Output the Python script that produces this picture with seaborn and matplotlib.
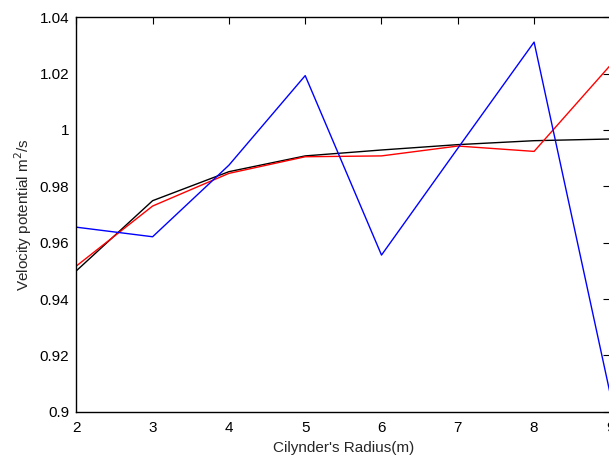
import matplotlib
matplotlib.use("Agg")
import matplotlib.pyplot as plt
import seaborn as sns
import pandas as pd
from matplotlib.ticker import FuncFormatter

radius = [2, 3, 4, 5, 6, 7, 8, 9]
black_vals = [0.9500, 0.9749, 0.9852, 0.9908, 0.9929, 0.9948, 0.9962, 0.9968]
red_vals = [0.9517, 0.9730, 0.9846, 0.9905, 0.9908, 0.9943, 0.9924, 1.0230]
blue_vals = [0.9655, 0.9621, 0.9875, 1.0193, 0.9556, 0.9935, 1.0312, 0.9060]
x_ticks = [2, 3, 4, 5, 6, 7, 8, 9]
y_ticks = [0.9, 0.92, 0.94, 0.96, 0.98, 1.0, 1.02, 1.04]

sns.set_style("white")
plt.rcParams['font.family'] = ['Liberation Sans', 'DejaVu Sans']

fig = plt.figure(figsize=(6.09, 4.59), dpi=100)
ax = fig.add_axes([76.3 / 609, 47.3 / 459, (610.4 - 76.3) / 609, (411.7 - 17.3) / 459])

df = pd.DataFrame({"r": radius * 3,
                   "v": black_vals + red_vals + blue_vals,
                   "s": ["black"] * 8 + ["red"] * 8 + ["blue"] * 8})
sns.lineplot(data=df, x="r", y="v", hue="s",
             palette={"black": "#000000", "red": "#ff0000", "blue": "#0000ff"},
             hue_order=["black", "red", "blue"], linewidth=1.0, legend=False,
             ax=ax, clip_on=True)

ax.set_xlim(2, 9)
ax.set_ylim(0.9, 1.04)
ax.set_xticks(x_ticks)
ax.set_yticks(y_ticks)
ax.yaxis.set_major_formatter(FuncFormatter(lambda v, p: f"{v:g}"))
ax.tick_params(direction="in", length=5, width=0.8, top=True, right=True,
               labelsize=11, colors="black")
ax.tick_params(axis="x", pad=7)
ax.tick_params(axis="y", pad=5)
for sp in ax.spines.values():
    sp.set_visible(True)
    sp.set_color("black")
    sp.set_linewidth(1.0)
ax.set_xlabel("Cilynder's Radius(m)", fontsize=11, labelpad=4)
ax.set_ylabel("Velocity potential m$^2$/s", fontsize=11, labelpad=4)

fig.savefig("out.png", dpi=100)
